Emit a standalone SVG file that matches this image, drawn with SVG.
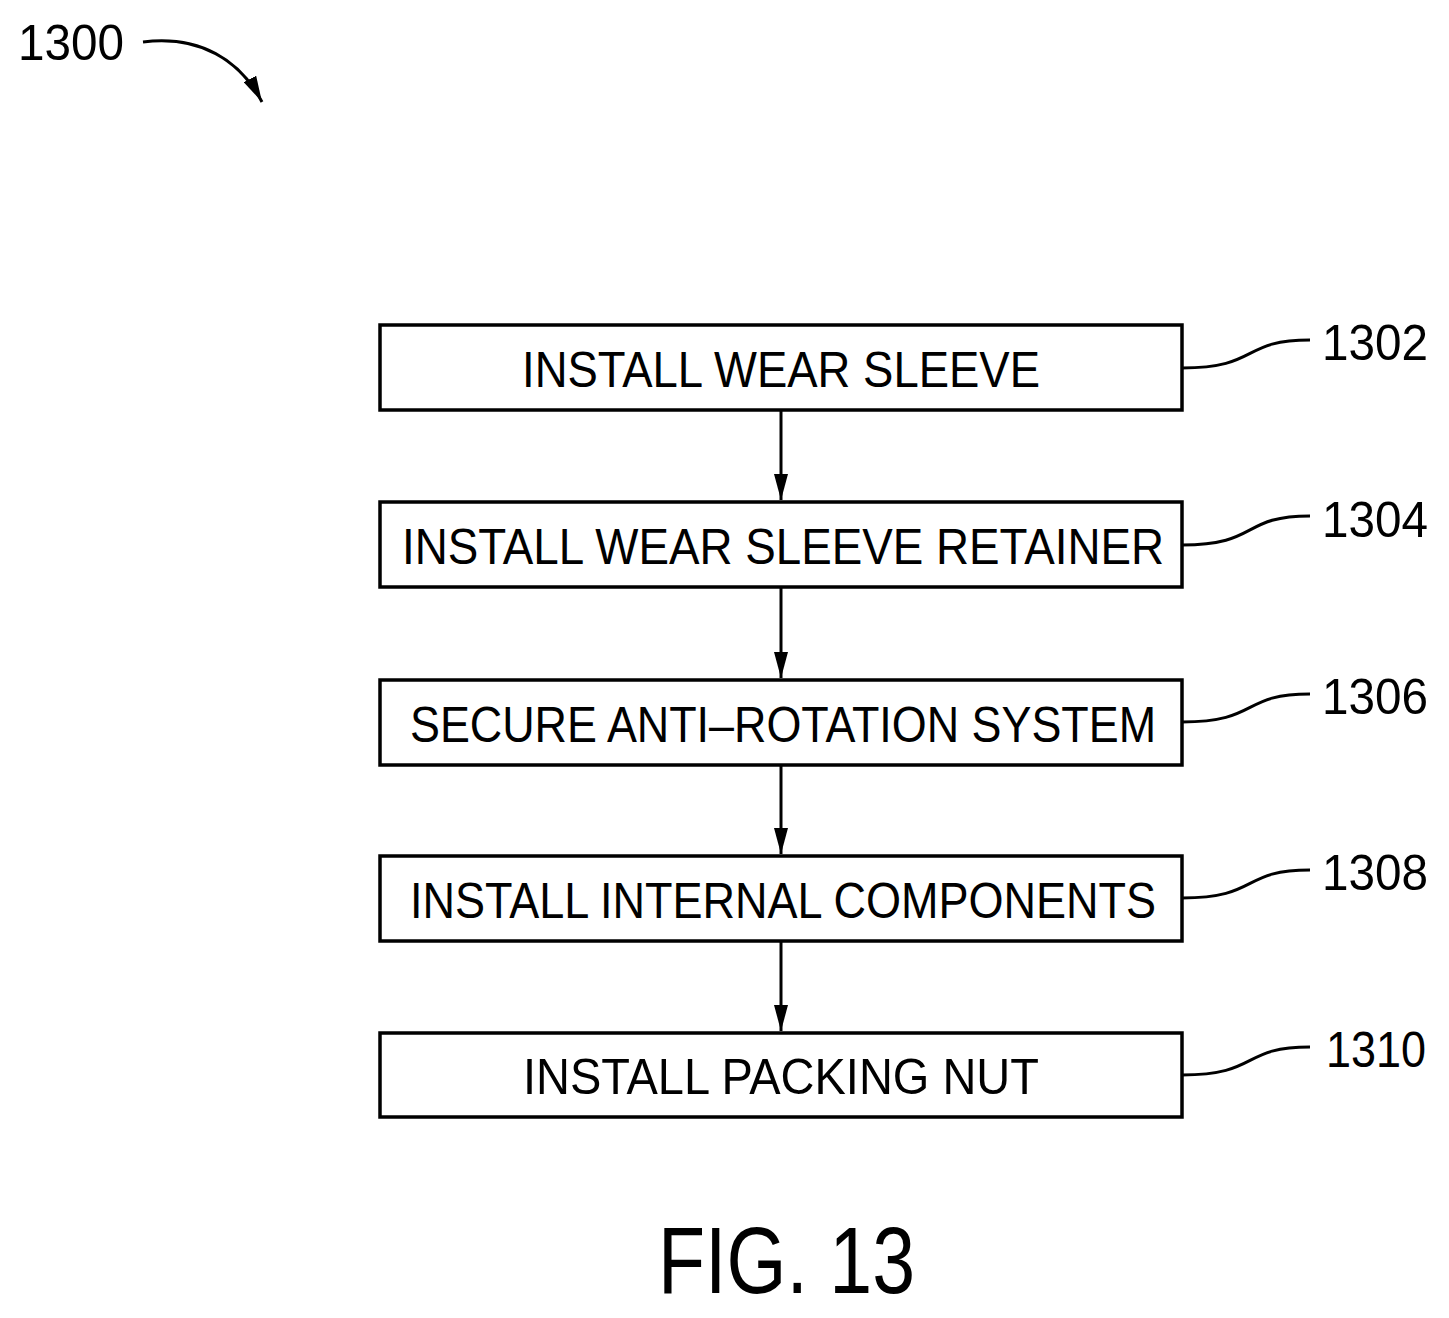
<svg xmlns="http://www.w3.org/2000/svg" width="1449" height="1318" viewBox="0 0 1449 1318">
<style>
.box{fill:#fff;stroke:#000;stroke-width:3.5}
.t{font-family:"Liberation Sans",sans-serif;font-size:50px;fill:#000}
.ln{fill:none;stroke:#000;stroke-width:3}
</style>
<defs>
<marker id="b" viewBox="0 0 10 10" refX="10" refY="5" markerWidth="26" markerHeight="14" markerUnits="userSpaceOnUse" orient="auto" preserveAspectRatio="none"><path d="M0,0L10,5L0,10z" fill="#000"/></marker></defs>
<rect width="1449" height="1318" fill="#fff"/>
<g id="n1"><rect class="box" x="380" y="325" width="802" height="85"/><text class="t" x="781" y="387" text-anchor="middle" textLength="518" lengthAdjust="spacingAndGlyphs">INSTALL  WEAR  SLEEVE</text></g>
<g id="n2"><rect class="box" x="380" y="502" width="802" height="85"/><text class="t" x="783" y="564" text-anchor="middle" textLength="762" lengthAdjust="spacingAndGlyphs">INSTALL  WEAR  SLEEVE  RETAINER</text></g>
<g id="n3"><rect class="box" x="380" y="680" width="802" height="85"/><text class="t" x="783" y="742" text-anchor="middle" textLength="746" lengthAdjust="spacingAndGlyphs">SECURE  ANTI–ROTATION  SYSTEM</text></g>
<g id="n4"><rect class="box" x="380" y="856" width="802" height="85"/><text class="t" x="783" y="918" text-anchor="middle" textLength="746" lengthAdjust="spacingAndGlyphs">INSTALL  INTERNAL  COMPONENTS</text></g>
<g id="n5"><rect class="box" x="380" y="1033" width="802" height="84"/><text class="t" x="781" y="1094" text-anchor="middle" textLength="516" lengthAdjust="spacingAndGlyphs">INSTALL  PACKING  NUT</text></g>
<g id="connectors">
<path class="ln" d="M781,410V500" marker-end="url(#b)"/>
<path class="ln" d="M781,587V678" marker-end="url(#b)"/>
<path class="ln" d="M781,765V854" marker-end="url(#b)"/>
<path class="ln" d="M781,941V1031" marker-end="url(#b)"/>
<path class="ln" d="M1182,368C1260,368 1240,340 1310,340"/>
<path class="ln" d="M1182,545C1260,545 1240,516 1310,516"/>
<path class="ln" d="M1182,722C1260,722 1240,694 1310,694"/>
<path class="ln" d="M1182,898C1260,898 1240,870 1310,870"/>
<path class="ln" d="M1182,1075C1260,1075 1240,1047 1310,1047"/>
<path class="ln" d="M143,42C200,35 240,60 262,102" marker-end="url(#b)"/>
</g>
<g class="t">
<text x="1322" y="360" textLength="106" lengthAdjust="spacingAndGlyphs">1302</text>
<text x="1322" y="537" textLength="106" lengthAdjust="spacingAndGlyphs">1304</text>
<text x="1322" y="714" textLength="106" lengthAdjust="spacingAndGlyphs">1306</text>
<text x="1322" y="890" textLength="106" lengthAdjust="spacingAndGlyphs">1308</text>
<text x="1326" y="1067" textLength="100" lengthAdjust="spacingAndGlyphs">1310</text>
<text x="18" y="60" textLength="106" lengthAdjust="spacingAndGlyphs">1300</text>
<text x="658" y="1293" font-size="95" textLength="257" lengthAdjust="spacingAndGlyphs">FIG. 13</text>
</g>
</svg>
